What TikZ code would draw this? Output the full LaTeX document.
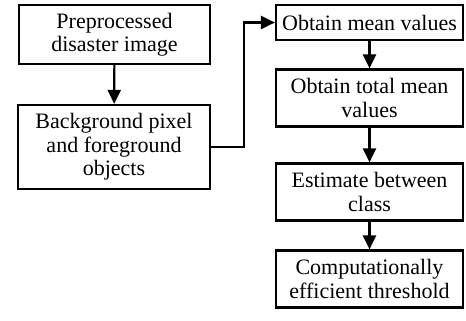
\documentclass[tikz,border=0pt]{standalone}
\usepackage{fontspec}
\setmainfont{Liberation Serif}
\usepackage{tikz}
\usetikzlibrary{arrows.meta, positioning, calc}

\tikzset{
  stepbox/.style={draw=black, line width=2.2bp, fill=white, align=center, inner sep=0pt,
    font=\fontsize{22bp}{23.5bp}\selectfont},
  flowarrow/.style={line width=2.2bp, -{Triangle[length=14bp, width=13bp]}}
}

\begin{document}
\begin{tikzpicture}[x=1bp, y=-1bp]
  \useasboundingbox (0,0) rectangle (466,320);

  % left column
  \node[stepbox, minimum width=191bp, minimum height=59bp] (prep) at (114.5, 34.5) {Preprocessed\\disaster image};
  \node[stepbox, minimum width=192bp, minimum height=84bp] (bgfg) at (114, 147) {Background pixel\\and foreground\\objects};

  % right column
  \node[stepbox, minimum width=187bp, minimum height=35bp] (mean) at (369.5, 22.5) {Obtain mean values};
  \node[stepbox, minimum width=187bp, minimum height=57bp] (total) at (369.5, 98) {Obtain total mean\\values};
  \node[stepbox, minimum width=187bp, minimum height=57bp] (between) at (369.5, 192) {Estimate between\\class};
  \node[stepbox, minimum width=187bp, minimum height=57bp] (thresh) at (369.5, 279) {Computationally\\efficient threshold};

  % connectors
  \draw[flowarrow] (prep) -- (bgfg);
  \draw[flowarrow] (bgfg.east) -- ++(33,0) |- (mean.west);
  \draw[flowarrow] (mean) -- (total);
  \draw[flowarrow] (total) -- (between);
  \draw[flowarrow] (between) -- (thresh);
\end{tikzpicture}
\end{document}
